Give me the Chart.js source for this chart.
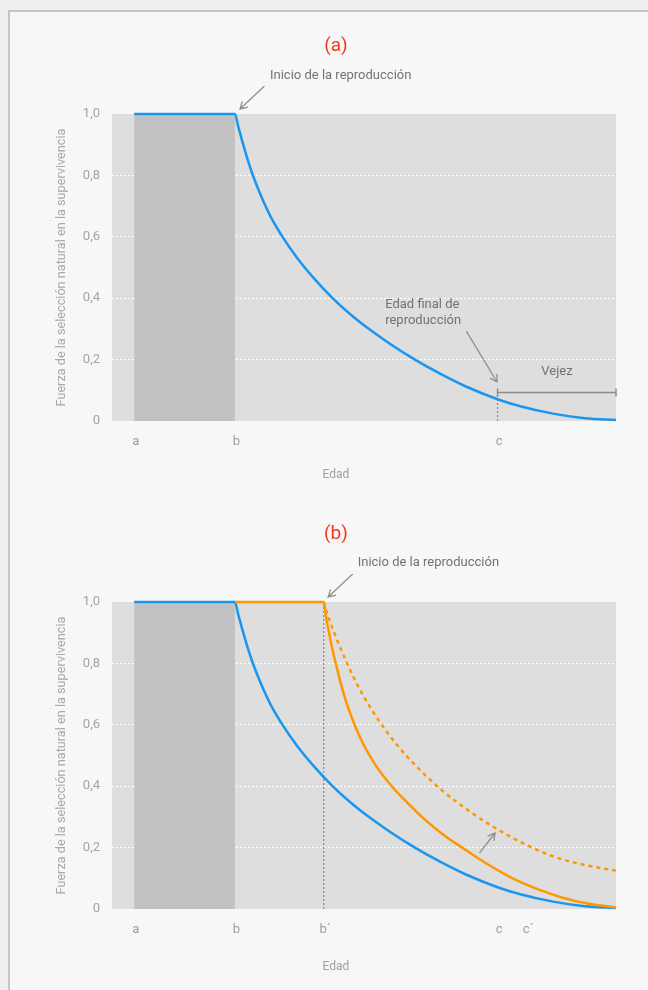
<!DOCTYPE html>
<html>
<head>
<meta charset="utf-8">
<script src="https://cdn.jsdelivr.net/npm/chart.js@4.4.1/dist/chart.umd.min.js"></script>
<style>
  html, body { margin: 0; padding: 0; background: #efefef; }
  body { width: 648px; height: 990px; position: relative; overflow: hidden; }
  #frame { position: absolute; left: 8px; top: 10px; width: 700px; height: 1000px;
           background: #f7f7f7; border: 2px solid #c6c6c6; box-sizing: border-box; }
  .panel { position: absolute; left: 0; width: 648px; height: 495px; }
  canvas { display: block; }
</style>
</head>
<body>
<div id="frame"></div>
<div class="panel" style="top:0"><canvas id="chartA" width="648" height="495"></canvas></div>
<div class="panel" style="top:488px"><canvas id="chartB" width="648" height="495"></canvas></div>

<script>
const FONT = 'Roboto, "Noto Sans", sans-serif';

// Ages (arbitrary units, 0–100) of the life-history landmarks
const ageA = 4.4;        // a
const ageB = 24.4;       // b: start of reproduction
const ageBPrime = 42.0;  // b´: delayed start of reproduction
const ageC = 76.5;       // c: end of reproduction
const ageCPrime = 82.3;  // c´
const ageEnd = 100;

// Axis ticks
const forceTicks = [0, 0.2, 0.4, 0.6, 0.8, 1.0];
const tickLabelsA = ['a', 'b', 'c'];
const tickValuesA = [ageA, ageB, ageC];
const tickLabelsB = ['a', 'b', 'b´', 'c', 'c´'];
const tickValuesB = [ageA, ageB, ageBPrime, ageC, ageCPrime];

// Force of selection with reproduction starting at b
const baseAge   = [4.4, 24.4, 25.0, 25.8, 26.8, 28.0, 29.6, 31.5, 33.9, 36.7, 39.9, 43.6, 47.4, 51.2, 55.2, 60.1, 65.1, 70.0, 76.5, 81.0, 87.5, 93.8, 100];
const baseForce = [1.0, 1.0, 0.962, 0.914, 0.858, 0.798, 0.732, 0.665, 0.598, 0.532, 0.468, 0.403, 0.346, 0.297, 0.251, 0.200, 0.154, 0.114, 0.071, 0.048, 0.024, 0.009, 0.003];

// Force of selection with reproduction delayed to b´
const delayedAge   = [24.4, 42.0, 42.4, 43.0, 43.6, 44.4, 45.4, 46.6, 48.0, 49.5, 51.3, 53.3, 55.5, 58.3, 61.8, 65.8, 70.2, 74.7, 79.7, 84.7, 89.6, 94.6, 100];
const delayedForce = [1.0, 1.0, 0.958, 0.905, 0.856, 0.800, 0.735, 0.668, 0.606, 0.549, 0.495, 0.445, 0.400, 0.351, 0.295, 0.241, 0.192, 0.144, 0.098, 0.063, 0.036, 0.017, 0.005];

// Delayed reproduction with extended reproductive span
const extendedAge   = [42.0, 42.8, 44.4, 46.4, 48.7, 51.5, 54.7, 58.3, 61.8, 65.8, 70.8, 75.7, 81.7, 87.6, 93.6, 100];
const extendedForce = [1.0, 0.958, 0.887, 0.809, 0.730, 0.650, 0.573, 0.501, 0.442, 0.382, 0.320, 0.267, 0.213, 0.171, 0.144, 0.125];

const oldAgeLevel = 0.093;   // height of the "Vejez" bracket

const BLUE = '#1a96f0';
const ORANGE = '#ff9800';
const GUIDE = '#8c8c8c';
const NOTE_COLOR = '#727272';

const toPoints = (xs, ys) => xs.map((x, i) => ({ x, y: ys[i] }));

const juvenileBand = {
  data: [{ x: ageA, y: 1 }, { x: ageB, y: 1 }],
  fill: 'origin', backgroundColor: '#c2c2c2', borderWidth: 0, pointRadius: 0, order: 10
};

function curve(xs, ys, color, dash, order) {
  return {
    data: toPoints(xs, ys), borderColor: color, borderWidth: 2.5, borderDash: dash || [],
    cubicInterpolationMode: 'monotone', pointRadius: 0, fill: false, clip: false, order
  };
}

function guideLine(x0, y0, x1, y1, order) {
  return {
    data: [{ x: x0, y: y0 }, { x: x1, y: y1 }], borderColor: GUIDE, borderWidth: 1.2,
    borderDash: [2, 2], pointRadius: 0, fill: false, order
  };
}

// Paints the plot area background
const plotBackground = {
  id: 'plotBackground',
  beforeDraw(chart) {
    const { ctx, chartArea: a } = chart;
    ctx.save();
    ctx.fillStyle = '#dedede';
    ctx.fillRect(a.left, a.top, a.right - a.left, a.bottom - a.top);
    ctx.restore();
  }
};

// Arrows, explanatory labels and the age-axis caption
const notes = {
  id: 'notes',
  afterDatasetsDraw(chart, args, opts) {
    const { ctx, chartArea, scales: { x, y } } = chart;
    const px = (p, d) => [x.getPixelForValue(p[0]) + (d ? d[0] : 0), y.getPixelForValue(p[1]) + (d ? d[1] : 0)];
    ctx.save();
    (opts.items || []).forEach(it => {
      if (it.type === 'arrow') {
        const [x0, y0] = px(it.from, it.dFrom);
        const [x1, y1] = px(it.to, it.dTo);
        const ang = Math.atan2(y1 - y0, x1 - x0);
        const h = 8, spread = Math.PI / 6;
        ctx.strokeStyle = '#8f8f8f';
        ctx.lineWidth = 1.3;
        ctx.beginPath();
        ctx.moveTo(x0, y0); ctx.lineTo(x1, y1);
        ctx.moveTo(x1 - h * Math.cos(ang - spread), y1 - h * Math.sin(ang - spread));
        ctx.lineTo(x1, y1);
        ctx.lineTo(x1 - h * Math.cos(ang + spread), y1 - h * Math.sin(ang + spread));
        ctx.stroke();
      } else if (it.type === 'text') {
        const [tx, ty] = px(it.at, it.d);
        ctx.fillStyle = NOTE_COLOR;
        ctx.font = '13px ' + FONT;
        ctx.textAlign = it.align || 'left';
        ctx.textBaseline = 'middle';
        it.lines.forEach((ln, i) => ctx.fillText(ln, tx, ty + i * 16));
      }
    });
    // axis caption, centred on the figure
    ctx.fillStyle = '#a0a0a0';
    ctx.font = '12px ' + FONT;
    ctx.textAlign = 'center';
    ctx.textBaseline = 'middle';
    ctx.fillText(opts.xCaption, chart.width / 2 + 12, chartArea.bottom + opts.captionGap);
    ctx.restore();
  }
};

function buildChart(id, cfg) {
  return new Chart(document.getElementById(id), {
    type: 'line',
    data: { datasets: cfg.datasets },
    options: {
      responsive: false, animation: false, devicePixelRatio: 1,
      layout: { padding: { left: 56, right: 32, top: 0, bottom: 0 } },
      plugins: {
        legend: { display: false },
        tooltip: { enabled: false },
        title: {
          display: true, text: cfg.title, color: '#ee3b1f',
          font: { family: FONT, size: 19, weight: 'normal' },
          padding: { top: 34.6, bottom: 56.6 }
        },
        notes: { items: cfg.notes, xCaption: 'Edad', captionGap: cfg.captionGap }
      },
      scales: {
        x: {
          type: 'linear', min: 0, max: ageEnd,
          grid: { display: false }, border: { display: false },
          afterBuildTicks: s => { s.ticks = cfg.tickValues.map(v => ({ value: v })); },
          afterFit: s => { s.height = 74; },
          ticks: {
            autoSkip: false, maxRotation: 0, padding: 5, labelOffset: 1.5,
            color: '#9d9d9d', font: { family: FONT, size: 13 },
            callback: (v, i) => cfg.tickLabels[i]
          }
        },
        y: {
          min: 0, max: 1,
          afterBuildTicks: s => { s.ticks = forceTicks.map(v => ({ value: v })); },
          afterFit: s => { s.width = 56; },
          grid: {
            color: c => (c.tick && c.tick.value > 0 && c.tick.value < 1) ? '#ffffff' : 'rgba(0,0,0,0)',
            lineWidth: 1, drawTicks: false
          },
          border: { display: false, dash: [2, 2] },
          ticks: {
            padding: 12, color: '#a3a3a3', font: { family: FONT, size: 13 },
            callback: v => v === 0 ? '0' : v.toFixed(1).replace('.', ',')
          },
          title: {
            display: true, text: 'Fuerza de la selección natural en la supervivencia',
            color: '#a8a8a8', font: { family: FONT, size: 12.7 }, padding: { top: -1.6, bottom: 0 }
          }
        }
      }
    },
    plugins: [plotBackground, notes]
  });
}

// (a) reproduction starting at b
buildChart('chartA', {
  title: '(a)',
  tickValues: tickValuesA, tickLabels: tickLabelsA, captionGap: 54,
  datasets: [
    juvenileBand,
    guideLine(ageC, 0, ageC, oldAgeLevel, 5),
    {
      data: [{ x: ageC, y: oldAgeLevel }, { x: ageEnd, y: oldAgeLevel }],
      borderColor: GUIDE, borderWidth: 1.5, fill: false, clip: false,
      pointStyle: 'line', pointRadius: 4, pointRotation: 90,
      pointBorderColor: GUIDE, pointBorderWidth: 1.5, order: 4
    },
    curve(baseAge, baseForce, BLUE, null, 1)
  ],
  notes: [
    { type: 'arrow', from: [ageB, 1], dFrom: [29.5, -28], to: [ageB, 1], dTo: [5, -5] },
    { type: 'text', at: [ageB, 1], d: [35, -38], lines: ['Inicio de la reproducción'] },
    { type: 'arrow', from: [70.3, 0.293], to: [76.4, 0.127] },
    { type: 'text', at: [54.2, 0.378], lines: ['Edad final de', 'reproducción'] },
    { type: 'text', at: [88.3, 0.16], align: 'center', lines: ['Vejez'] }
  ]
});

// (b) reproduction delayed to b´
buildChart('chartB', {
  title: '(b)',
  tickValues: tickValuesB, tickLabels: tickLabelsB, captionGap: 58,
  datasets: [
    juvenileBand,
    guideLine(ageBPrime, 0, ageBPrime, 1, 5),
    curve(baseAge, baseForce, BLUE, null, 3),
    curve(extendedAge, extendedForce, ORANGE, [4, 4], 2),
    curve(delayedAge, delayedForce, ORANGE, null, 1)
  ],
  notes: [
    { type: 'arrow', from: [ageBPrime, 1], dFrom: [29, -28], to: [ageBPrime, 1], dTo: [4.5, -5] },
    { type: 'text', at: [ageBPrime, 1], d: [34, -39], lines: ['Inicio de la reproducción'] },
    { type: 'arrow', from: [72.9, 0.182], to: [76.0, 0.2475] }
  ]
});
</script>
</body>
</html>
